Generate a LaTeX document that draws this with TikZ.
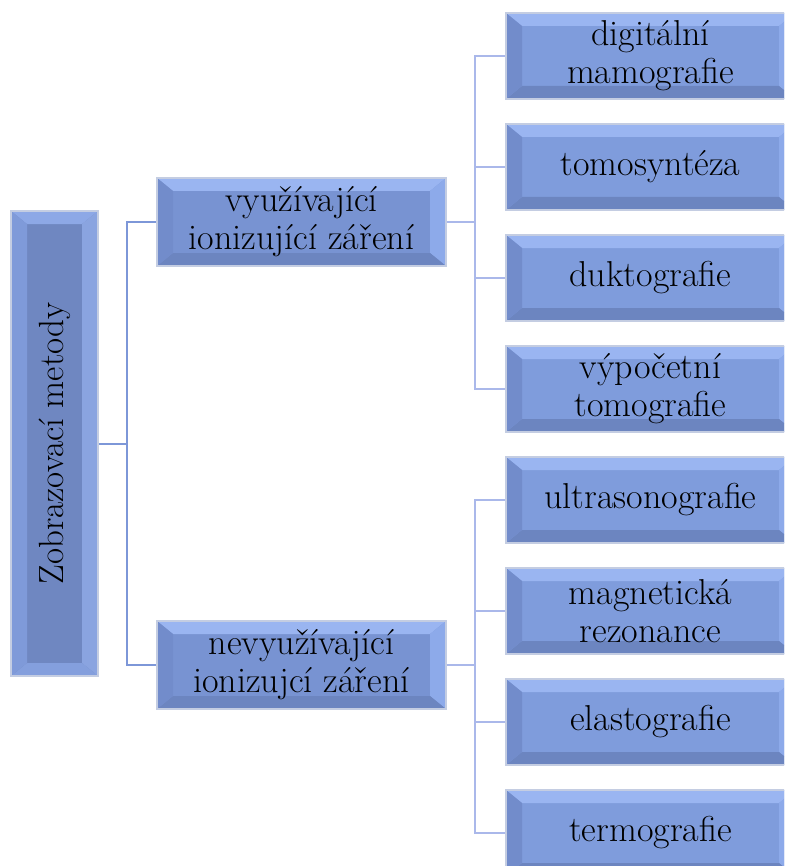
\documentclass[tikz,border=0pt]{standalone}
\usepackage{tikz}
\usetikzlibrary{positioning, calc}

\definecolor{rootface}{HTML}{6F87C1}
\definecolor{midface}{HTML}{7893D2}
\definecolor{leafface}{HTML}{7F9CDC}
\definecolor{boxrim}{HTML}{C4CDE2}
\definecolor{rootline}{HTML}{7D97D8}
\definecolor{leafline}{HTML}{AAB8EA}
% bevel shades (top, right, bottom, left)
\definecolor{bevT}{HTML}{9AB5F1}
\definecolor{bevR}{HTML}{8DAAEA}
\definecolor{bevB}{HTML}{6C85C0}
\definecolor{bevL}{HTML}{728CCB}

\newcommand{\boxfont}{\fontsize{18}{19}\selectfont}

\begin{document}
\begin{tikzpicture}[
  x=0.5pt, y=-0.5pt,
  bevel/.style={draw=boxrim, line width=0.8pt, inner sep=0pt, align=center, font=\boxfont,
    path picture={
      \coordinate (nw) at (path picture bounding box.north west);
      \coordinate (ne) at (path picture bounding box.north east);
      \coordinate (sw) at (path picture bounding box.south west);
      \coordinate (se) at (path picture bounding box.south east);
      \fill[bevT] (nw) -- (ne) -- ([xshift=-8pt,yshift=-6.5pt]ne) -- ([xshift=8pt,yshift=-6.5pt]nw) -- cycle;
      \fill[bevR] (ne) -- (se) -- ([xshift=-8pt,yshift=6.5pt]se) -- ([xshift=-8pt,yshift=-6.5pt]ne) -- cycle;
      \fill[bevB] (sw) -- (se) -- ([xshift=-8pt,yshift=6.5pt]se) -- ([xshift=8pt,yshift=6.5pt]sw) -- cycle;
      \fill[bevL] (nw) -- (sw) -- ([xshift=8pt,yshift=6.5pt]sw) -- ([xshift=8pt,yshift=-6.5pt]nw) -- cycle;
    }},
  rootbox/.style={bevel, fill=rootface, minimum width=43.5pt, minimum height=232.5pt,
    font=\fontsize{17.5}{19}\selectfont,
    /utils/exec={\definecolor{bevT}{HTML}{8DA8E6}\definecolor{bevR}{HTML}{8AA4E0}%
      \definecolor{bevB}{HTML}{849FDD}\definecolor{bevL}{HTML}{7F9AD9}}},
  midbox/.style={bevel, fill=midface, minimum width=144.5pt, minimum height=44pt},
  leafbox/.style={bevel, fill=leafface, minimum width=144.5pt, minimum height=43pt},
  rootlink/.style={draw=rootline, line width=1pt},
  leaflink/.style={draw=leafline, line width=1pt}
]
  \useasboundingbox (0,0) rectangle (784,866);
  \clip (0,0) rectangle (784,866);

  % root
  \node[rootbox] (root) at (54.5,443.5) {\rotatebox{90}{Zobrazovací metody}};

  % second level
  \node[midbox] (ion) at (301.5,222) {využívající\\ionizující záření};
  \node[midbox] (nonion) at (301.5,665) {nevyužívající\\ionizujcí záření};

  % leaves
  \node[leafbox] (mamo) at (650.5,56) {digitální\\mamografie};
  \node[leafbox] (tomo) at (650.5,167) {tomosyntéza};
  \node[leafbox] (dukto) at (650.5,278) {duktografie};
  \node[leafbox] (ct) at (650.5,389) {výpočetní\\tomografie};
  \node[leafbox] (usg) at (650.5,500) {ultrasonografie};
  \node[leafbox] (mr) at (650.5,611) {magnetická\\rezonance};
  \node[leafbox] (elasto) at (650.5,722) {elastografie};
  \node[leafbox] (termo) at (650.5,833) {termografie};

  % connectors
  \coordinate (rj) at (127,443.5);
  \coordinate (ij) at (475,222);
  \coordinate (nj) at (475,665);

  \draw[rootlink] (root.east) -- (rj) |- (ion.west);
  \draw[rootlink] (rj) |- (nonion.west);

  \draw[leaflink] (ion.east) -- (ij);
  \foreach \n in {mamo, tomo, dukto, ct}
    \draw[leaflink] (ij) |- (\n.west);

  \draw[leaflink] (nonion.east) -- (nj);
  \foreach \n in {usg, mr, elasto, termo}
    \draw[leaflink] (nj) |- (\n.west);
\end{tikzpicture}
\end{document}
